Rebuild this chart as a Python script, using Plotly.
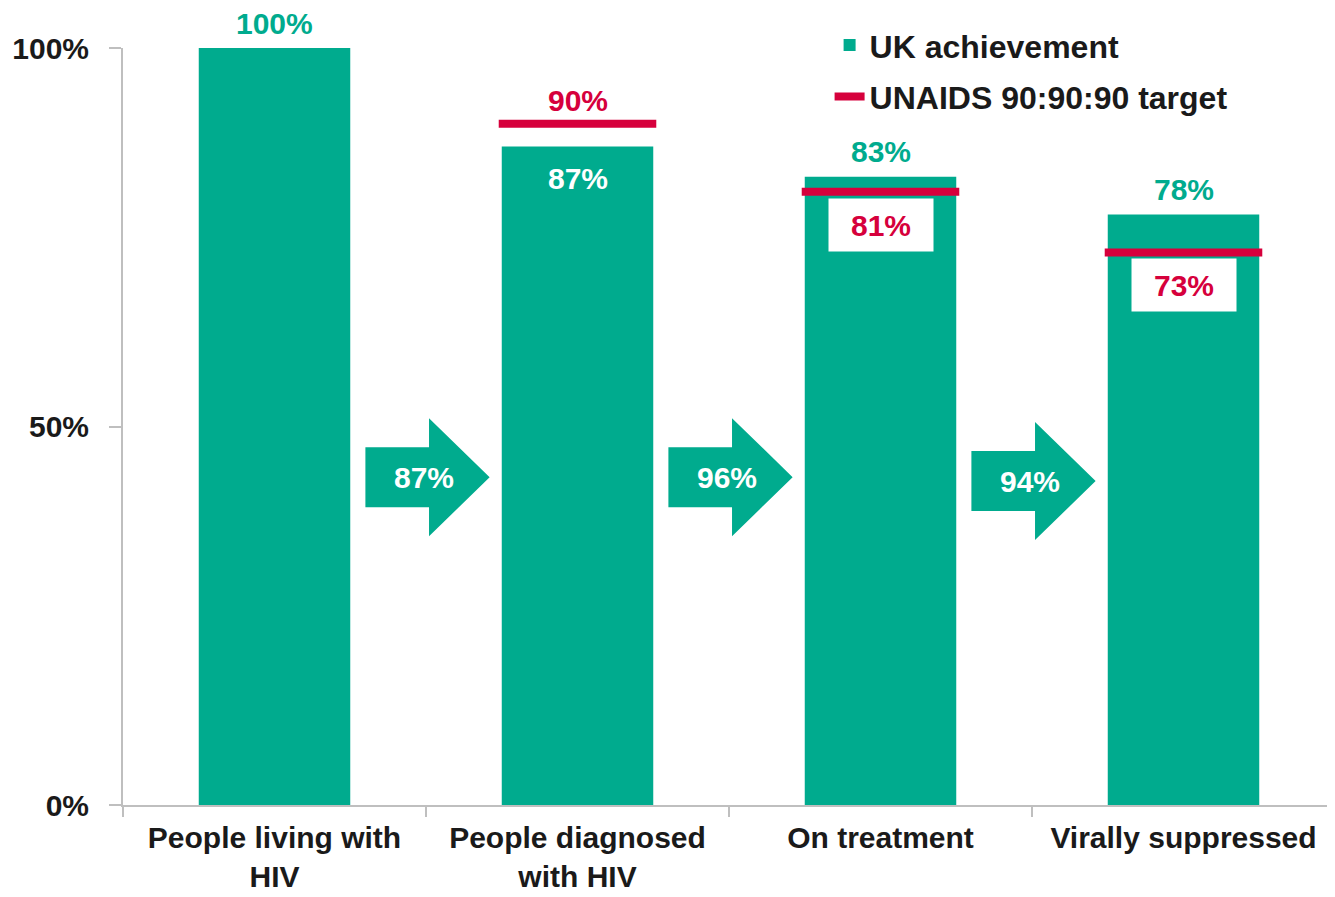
import plotly.graph_objects as go

# ---- data ----
categories = ["People living with<br>HIV", "People diagnosed<br>with HIV", "On treatment", "Virally suppressed"]
uk_achievement = [100, 87, 83, 78]
unaids_target = [None, 90, 81, 73]
step_conversion = [87, 96, 94]
y_tick_values = [0, 50, 100]
y_tick_labels = ["0%", "50%", "100%"]

# ---- style ----
GREEN = "#00AB8E"
RED = "#D6003C"
AXIS = "#BFBFBF"
TEXT = "#1A1A1A"
FONT = "Liberation Sans, Arial, sans-serif"
FS = 30

achievement_label_pos = ["above", "inside", "above", "above"]
target_label_pos = [None, "above", "below", "below"]
arrow_center_y = [43.3, 43.3, 42.8]

BAR_W = 0.5
TARGET_HALF = 0.26

x_idx = list(range(len(categories)))

fig = go.Figure()
fig.add_trace(go.Bar(
    x=x_idx, y=uk_achievement, width=BAR_W, marker=dict(color=GREEN, line=dict(width=0)),
    name="UK achievement", legendgroup="a", hoverinfo="skip",
))

tx, ty = [], []
for i, t in enumerate(unaids_target):
    if t is None:
        continue
    tx += [i - TARGET_HALF, i + TARGET_HALF, None]
    ty += [t, t, None]
fig.add_trace(go.Scatter(
    x=tx, y=ty, mode="lines", line=dict(color=RED, width=8),
    name="UNAIDS 90:90:90 target", legendgroup="b", hoverinfo="skip",
))

annotations = []
for i, v in enumerate(uk_achievement):
    if achievement_label_pos[i] == "above":
        annotations.append(dict(x=i, y=v, text=f"{v}%", showarrow=False, yanchor="middle",
                                yshift=25, font=dict(color=GREEN, size=FS, family=FONT, weight="bold")))
    else:
        annotations.append(dict(x=i, y=v, text=f"{v}%", showarrow=False, yanchor="middle",
                                yshift=-32, font=dict(color="white", size=FS, family=FONT, weight="bold")))

for i, t in enumerate(unaids_target):
    if t is None:
        continue
    if target_label_pos[i] == "above":
        annotations.append(dict(x=i, y=t, text=f"{t}%", showarrow=False, yanchor="middle",
                                yshift=23, font=dict(color=RED, size=FS, family=FONT, weight="bold")))
    else:
        annotations.append(dict(x=i, y=t, text=f"{t}%", showarrow=False, yanchor="middle",
                                yshift=-33, width=102, height=50, bgcolor="white",
                                font=dict(color=RED, size=FS, family=FONT, weight="bold")))

shapes = []
for k, c in enumerate(step_conversion):
    cx = k + 0.5
    cy = arrow_center_y[k]
    bl, hx, tip = cx - 0.20, cx + 0.01, cx + 0.21
    bh, hh = 3.96, 7.8
    path = (f"M{bl},{cy+bh} L{hx},{cy+bh} L{hx},{cy+hh} L{tip},{cy} "
            f"L{hx},{cy-hh} L{hx},{cy-bh} L{bl},{cy-bh} Z")
    shapes.append(dict(type="path", path=path, xref="x", yref="y",
                       fillcolor=GREEN, line=dict(width=0), layer="above"))
    annotations.append(dict(x=cx, y=cy, text=f"{c}%", showarrow=False, yanchor="middle",
                            xshift=-2, font=dict(color="white", size=FS, family=FONT, weight="bold")))

# page body has an 8px default margin, so the figure is sized to end at the window edge
fig.update_layout(
    width=1327, height=889,
    margin=dict(l=115, r=0, t=40, b=92, autoexpand=False),
    paper_bgcolor="white", plot_bgcolor="white",
    font=dict(family=FONT, size=FS, color=TEXT, weight="bold"),
    showlegend=True,
    legend=dict(x=0.583, y=1.04, xanchor="left", yanchor="top", bgcolor="rgba(0,0,0,0)",
                traceorder="grouped", tracegroupgap=7, itemwidth=30,
                font=dict(size=32, family=FONT, color=TEXT, weight="bold")),
    annotations=annotations,
    shapes=shapes,
    bargap=0.5,
)
fig.update_xaxes(
    range=[-0.5, 3.5], tickmode="array", tickvals=x_idx, ticktext=categories,
    ticks="", showline=True, linecolor=AXIS, linewidth=2, showgrid=False, zeroline=False,
    ticklabelstandoff=5, automargin=False,
    minor=dict(tickmode="array", tickvals=[-0.5, 0.5, 1.5, 2.5, 3.5], ticks="outside",
               ticklen=10, tickcolor=AXIS, tickwidth=2, showgrid=False),
    tickfont=dict(size=30, family=FONT, color=TEXT, weight="bold"),
    fixedrange=True,
)
fig.update_yaxes(
    range=[0, 100], tickmode="array", tickvals=y_tick_values, ticktext=y_tick_labels,
    ticks="outside", ticklen=12, tickcolor=AXIS, tickwidth=2,
    showline=True, linecolor=AXIS, linewidth=2, showgrid=False, zeroline=False,
    ticklabelstandoff=14, automargin=False,
    tickfont=dict(size=FS, family=FONT, color=TEXT, weight="bold"),
    fixedrange=True,
)

fig.write_html("out.html", config={"displayModeBar": False})
